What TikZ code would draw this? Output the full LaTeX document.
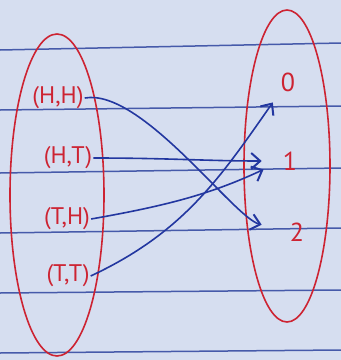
\documentclass[tikz,border=0pt]{standalone}
\usepackage{fontspec}
\setmainfont{PT Sans}
\usetikzlibrary{arrows.meta}
\definecolor{paper}{RGB}{214,222,240}
\definecolor{rule}{RGB}{70,90,170}
\definecolor{ink}{RGB}{205,35,50}
\definecolor{pen}{RGB}{35,55,160}
\begin{document}
\begin{tikzpicture}[x=1pt,y=-1pt,
  rl/.style={rule,line width=1.5pt},
  lbl/.style={ink,font=\fontsize{24}{24}\selectfont,inner sep=1pt},
  num/.style={ink,font=\fontsize{26}{26}\selectfont,inner sep=1pt},
  arr/.style={pen,line width=1.6pt,-{Straight Barb[length=9pt,width=16pt,line width=2pt]}},
  set/.style={ink,line width=1.6pt}]
\fill[paper] (0,0) rectangle (341,360);
\useasboundingbox (0,0) rectangle (341,360);
% ruled lines
\draw[rl] (0,50) -- (341,43);
\draw[rl] (0,110) -- (341,106);
\draw[rl] (0,173) -- (341,168);
\draw[rl] (0,233) -- (341,228);
\draw[rl] (0,293) -- (341,290);
\draw[rl] (0,353) -- (341,350);
% sets
\draw[set] (57,195) ellipse [x radius=47, y radius=161];
\draw[set] (287,166) ellipse [x radius=43, y radius=156];
% labels
\node[lbl] (hh) at (58,98) {(H,H)};
\node[lbl] (ht) at (68,158) {(H,T)};
\node[lbl] (th) at (67,219) {(T,H)};
\node[lbl] (tt) at (68,276) {(T,T)};
\node[num] (n0) at (288,82) {0};
\node[num] (n1) at (290,161) {1};
\node[num] (n2) at (297,232) {2};
% arrows
\draw[arr,shorten >=28pt] (hh.east) to[out=10,in=165,looseness=0.6] (n2.west);
\draw[arr,shorten >=20pt] (ht.east) to[out=0,in=180] (n1.west);
\draw[arr,shorten >=20pt] (th.east) to[out=10,in=205] (n1.west);
\draw[arr,shorten >=12pt] (tt.east) to[out=25,in=235] (n0.south west);
\end{tikzpicture}
\end{document}
